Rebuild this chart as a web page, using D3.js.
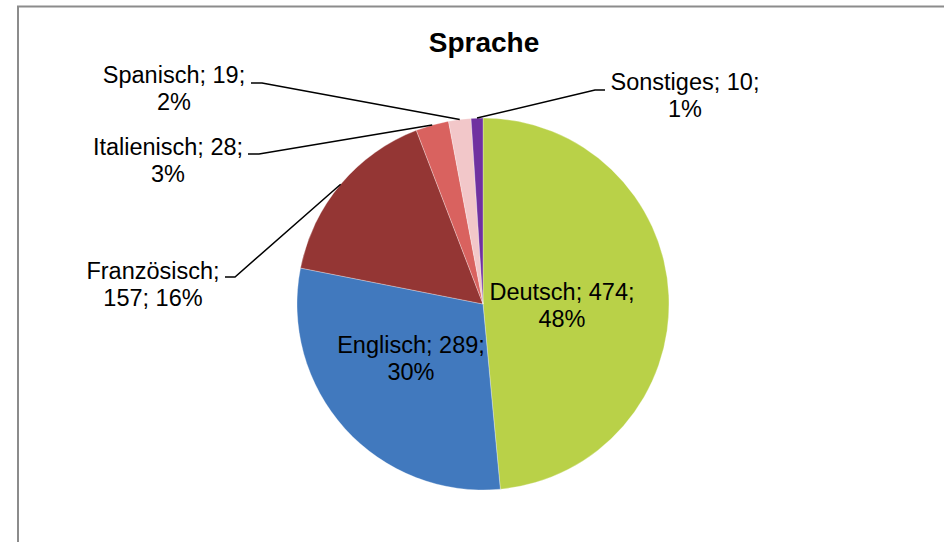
<!DOCTYPE html>
<html>
<head>
<meta charset="utf-8">
<script src="https://cdn.jsdelivr.net/npm/d3@7"></script>
<style>
  html, body { margin: 0; padding: 0; background: #fff; }
  svg { display: block; }
  text { font-family: "Liberation Sans", Arial, sans-serif; fill: #000; }
</style>
</head>
<body>
<svg id="chart" width="944" height="542"></svg>
<script>
// ---- data ----
const categories = ["Deutsch", "Englisch", "Französisch", "Italienisch", "Spanisch", "Sonstiges"];
const values = [474, 289, 157, 28, 19, 10];
const percentLabels = ["48%", "30%", "16%", "3%", "2%", "1%"];
const colors = ["#b9d148", "#4179be", "#943634", "#d9625f", "#f2c7c9", "#7031a0"];
const title = "Sprache";

// ---- layout ----
const W = 944, H = 542;
const cx = 483, cy = 304, R = 186;
const fontSize = 23.5, lineH = 27;

// label layouts: lines, center x, first baseline, and leader (null = inside)
const labelLayout = [
  { lines: d => [`${d.cat}; ${d.val};`, d.pct], x: 562, y: 300, leader: null },
  { lines: d => [`${d.cat}; ${d.val};`, d.pct], x: 411, y: 353, leader: null },
  { lines: d => [`${d.cat};`, `${d.val}; ${d.pct}`], x: 153, y: 279, leader: [[225, 277], [235, 277]] },
  { lines: d => [`${d.cat}; ${d.val};`, d.pct], x: 168, y: 155, leader: [[248, 154], [259, 154]] },
  { lines: d => [`${d.cat}; ${d.val};`, d.pct], x: 174, y: 83, leader: [[251, 83], [262, 83]] },
  { lines: d => [`${d.cat}; ${d.val};`, d.pct], x: 685, y: 90, leader: [[605, 90], [595, 90]] }
];

const svg = d3.select("#chart");

// frame
svg.append("rect")
  .attr("x", 18).attr("y", 6.5)
  .attr("width", W + 20).attr("height", H + 20)
  .attr("fill", "#fff")
  .attr("stroke", "#8c8c8c")
  .attr("stroke-width", 2);

// title
svg.append("text")
  .attr("x", 484).attr("y", 52)
  .attr("text-anchor", "middle")
  .attr("font-size", 28)
  .attr("font-weight", "bold")
  .text(title);

const data = categories.map((c, i) => ({ cat: c, val: values[i], pct: percentLabels[i], color: colors[i] }));

const pie = d3.pie().value(d => d.val).sort(null).startAngle(0).endAngle(2 * Math.PI);
const arcs = pie(data);
const arc = d3.arc().innerRadius(0).outerRadius(R);
const edgeArc = d3.arc().innerRadius(R).outerRadius(R);

const g = svg.append("g").attr("transform", `translate(${cx},${cy})`);

g.selectAll("path.slice")
  .data(arcs)
  .enter().append("path")
  .attr("class", "slice")
  .attr("d", arc)
  .attr("fill", d => d.data.color)
  .attr("stroke", "#fff")
  .attr("stroke-width", 0.3);

// leader lines
arcs.forEach((a, i) => {
  const L = labelLayout[i];
  if (!L.leader) return;
  const c = edgeArc.centroid(a);
  const pts = [L.leader[0], L.leader[1], [cx + c[0], cy + c[1]]];
  svg.append("path")
    .attr("d", d3.line()(pts))
    .attr("fill", "none")
    .attr("stroke", "#000")
    .attr("stroke-width", 1.5);
});

// labels
arcs.forEach((a, i) => {
  const L = labelLayout[i];
  const lines = L.lines(a.data);
  const t = svg.append("text")
    .attr("text-anchor", "middle")
    .attr("font-size", fontSize);
  lines.forEach((ln, k) => {
    t.append("tspan")
      .attr("x", L.x)
      .attr("y", L.y + k * lineH)
      .text(ln);
  });
});
</script>
</body>
</html>
